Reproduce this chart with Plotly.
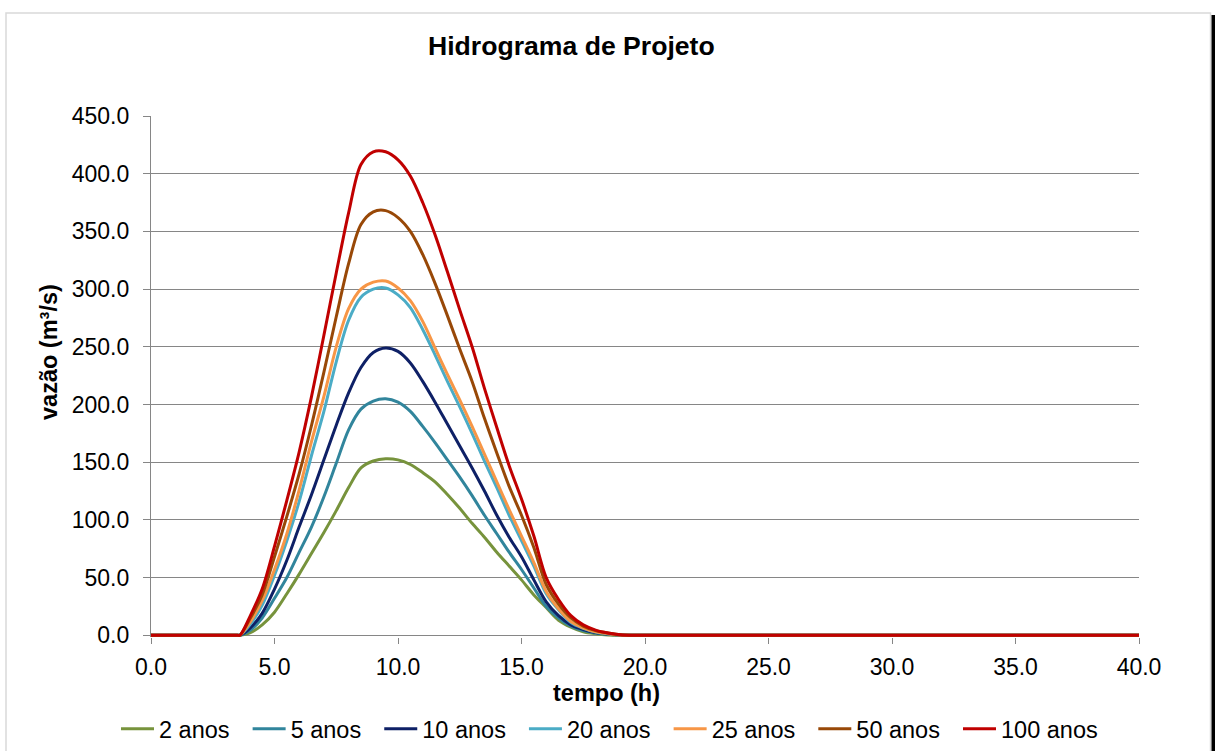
import plotly.graph_objects as go

# time (h)
TIME = [0.0, 1.0, 2.0, 3.0, 3.5, 3.6, 4.0, 4.5, 5.0, 5.5, 6.0, 6.5, 7.0, 7.5, 8.0, 8.5,
        9.0, 9.5, 10.0, 10.5, 11.0, 11.5, 12.0, 12.5, 13.0, 13.5, 14.0, 14.5,
        15.0, 15.5, 16.0, 16.5, 17.0, 17.5, 18.0, 18.5, 19.0, 19.5, 20.0,
        25.0, 30.0, 35.0, 40.0]

Q_2 = [0, 0, 0, 0, 0, 0,
       2, 9, 20, 36, 53, 71, 89, 108, 128, 145, 151, 153, 152, 148, 141, 133,
       122, 110, 97, 85, 72, 60, 48, 35, 24, 13, 7, 3, 1.3, 0.3, 0, 0,
       0, 0, 0, 0, 0]
Q_5 = [0, 0, 0, 0, 0, 0,
       4, 15, 32, 50, 72, 94, 120, 149, 178, 196, 203, 205, 202, 194, 181, 167,
       152, 137, 121, 104, 88, 72, 57, 41, 25, 15, 8, 4, 2, 0.8, 0.2, 0,
       0, 0, 0, 0, 0]
Q_10 = [0, 0, 0, 0, 0, 0,
        6, 19, 40, 65, 94, 122, 152, 182, 210, 232, 245, 249, 246, 236, 220, 202,
        183, 164, 145, 125, 104, 85, 68, 48, 29, 17, 9, 5, 2.4, 1, 0.2, 0,
        0, 0, 0, 0, 0]
Q_20 = [0, 0, 0, 0, 0, 0,
        9, 26, 52, 82, 116, 156, 194, 237, 273, 293, 300, 301, 295, 284, 265, 243,
        220, 198, 175, 151, 128, 104, 82, 60, 36, 22, 11, 6, 2.8, 1.2, 0.3, 0,
        0, 0, 0, 0, 0]
Q_25 = [0, 0, 0, 0, 0, 0,
        11, 30, 57, 88, 126, 168, 207, 250, 283, 300, 306, 307, 301, 290, 272, 249,
        226, 204, 181, 157, 133, 109, 86, 63, 38, 23, 12, 6.5, 3, 1.4, 0.3, 0,
        0, 0, 0, 0, 0]
Q_50 = [0, 0, 0, 0, 0, 0,
        14, 35, 68, 103, 140, 182, 228, 276, 322, 356, 367, 368, 362, 350, 330, 305,
        277, 248, 220, 188, 158, 129, 104, 76, 44, 27, 15, 8, 4, 2, 0.4, 0,
        0, 0, 0, 0, 0]
Q_100 = [0, 0, 0, 0, 0, 0,
         16, 40, 77, 117, 159, 207, 260, 314, 366, 408, 419, 419, 412, 398, 375, 347,
         315, 282, 250, 214, 180, 147, 118, 86, 50, 31, 17, 9, 4.5, 2, 0.5, 0,
         0, 0, 0, 0, 0]

SERIES_NAMES = ["2 anos", "5 anos", "10 anos", "20 anos", "25 anos", "50 anos", "100 anos"]
SERIES_VALUES = [Q_2, Q_5, Q_10, Q_20, Q_25, Q_50, Q_100]
COLORS = ["#77933C", "#31859C", "#0E2066", "#4BACC6", "#F79646", "#984807", "#C00000"]

X_TICKS = [0.0, 5.0, 10.0, 15.0, 20.0, 25.0, 30.0, 35.0, 40.0]
Y_TICKS = [0.0, 50.0, 100.0, 150.0, 200.0, 250.0, 300.0, 350.0, 400.0, 450.0]

FONT = "Liberation Sans, Arial, sans-serif"
W, H = 1215, 751
ML, MR, MT, MB = 151, 76, 116, 114
PW, PH = W - ML - MR, H - MT - MB


def px_to_paper_x(px):
    return (px - ML) / PW


def px_to_paper_y(py):
    return (H - MB - py) / PH


fig = go.Figure()
for name, vals, col in zip(SERIES_NAMES, SERIES_VALUES, COLORS):
    fig.add_trace(go.Scatter(
        x=TIME, y=vals, mode="lines", name=name + "\u00a0\u00a0",
        line=dict(color=col, width=3, shape="spline", smoothing=0.9),
    ))

fig.update_layout(
    width=W, height=H,
    margin=dict(l=ML, r=MR, t=MT, b=MB, pad=0, autoexpand=False),
    paper_bgcolor="white", plot_bgcolor="white",
    font=dict(family=FONT, color="black", size=23),
    showlegend=True,
    legend=dict(
        orientation="h", x=px_to_paper_x(116), xanchor="left",
        y=px_to_paper_y(729), yanchor="middle",
        font=dict(size=23.5, family=FONT, color="black"),
        bgcolor="rgba(0,0,0,0)", itemwidth=33, tracegroupgap=0,
    ),
    xaxis=dict(
        range=[0, 40], tickvals=X_TICKS, tickformat=".1f",
        showgrid=False, zeroline=False, showline=False,
        ticks="outside", ticklen=6, tickwidth=1.3, tickcolor="#868686",
        tickfont=dict(size=23, family=FONT, color="black"),
        ticklabelstandoff=3,
    ),
    yaxis=dict(
        range=[-1.5, 450], tickvals=Y_TICKS, tickformat=".1f",
        showgrid=True, gridcolor="#868686", gridwidth=1.3,
        zeroline=True, zerolinecolor="#868686", zerolinewidth=1.3,
        showline=True, linecolor="#868686", linewidth=1.3,
        ticks="outside", ticklen=7, tickwidth=1.3, tickcolor="#868686",
        tickfont=dict(size=23, family=FONT, color="black"),
        ticklabelstandoff=9, layer="below traces",
    ),
    annotations=[
        dict(text="<b>Hidrograma de Projeto</b>", xref="paper", yref="paper",
             x=px_to_paper_x(571), y=px_to_paper_y(46), xanchor="center", yanchor="middle",
             showarrow=False, font=dict(size=26.6, family=FONT, color="black")),
        dict(text="<b>tempo (h)</b>", xref="paper", yref="paper",
             x=px_to_paper_x(606), y=px_to_paper_y(693), xanchor="center", yanchor="middle",
             showarrow=False, font=dict(size=23.5, family=FONT, color="black")),
        dict(text="<b>vazão (m³/s)</b>", xref="paper", yref="paper", textangle=-90,
             x=px_to_paper_x(49), y=px_to_paper_y(352), xanchor="center", yanchor="middle",
             showarrow=False, font=dict(size=23.5, family=FONT, color="black")),
    ],
    shapes=[
        dict(type="rect", xref="paper", yref="paper", layer="below",
             x0=px_to_paper_x(6), x1=px_to_paper_x(1210.5),
             y0=px_to_paper_y(770), y1=px_to_paper_y(13),
             line=dict(color="#D9D9D9", width=1.5), fillcolor="rgba(0,0,0,0)"),
        dict(type="rect", xref="paper", yref="paper", layer="above",
             x0=px_to_paper_x(1211.5), x1=px_to_paper_x(1217),
             y0=px_to_paper_y(770), y1=px_to_paper_y(15),
             line=dict(width=0), fillcolor="black"),
    ],
)

fig.write_html(
    "out.html",
    config={"displayModeBar": False},
    post_script="document.body.style.margin='0';document.body.style.overflow='hidden';",
)
